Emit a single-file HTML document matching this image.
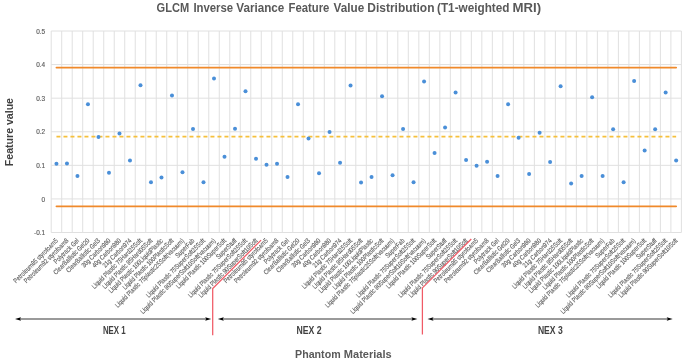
<!DOCTYPE html><html><head><meta charset="utf-8"><style>html,body{margin:0;padding:0;background:#fff;overflow:hidden}svg{display:block;will-change:transform}text{font-family:"Liberation Sans",sans-serif}</style></head><body>
<svg width="685" height="361" viewBox="0 0 685 361">
<rect width="685" height="361" fill="#fff"/>
<path d="M51.20 31.00H681.40M51.20 64.58H681.40M51.20 98.17H681.40M51.20 131.75H681.40M51.20 165.33H681.40M51.20 198.92H681.40M51.20 232.50H681.40M51.20 31.00V232.50M61.70 31.00V232.50M72.21 31.00V232.50M82.71 31.00V232.50M93.21 31.00V232.50M103.72 31.00V232.50M114.22 31.00V232.50M124.72 31.00V232.50M135.23 31.00V232.50M145.73 31.00V232.50M156.23 31.00V232.50M166.74 31.00V232.50M177.24 31.00V232.50M187.74 31.00V232.50M198.25 31.00V232.50M208.75 31.00V232.50M219.25 31.00V232.50M229.76 31.00V232.50M240.26 31.00V232.50M250.76 31.00V232.50M261.27 31.00V232.50M271.77 31.00V232.50M282.27 31.00V232.50M292.78 31.00V232.50M303.28 31.00V232.50M313.78 31.00V232.50M324.29 31.00V232.50M334.79 31.00V232.50M345.29 31.00V232.50M355.80 31.00V232.50M366.30 31.00V232.50M376.80 31.00V232.50M387.31 31.00V232.50M397.81 31.00V232.50M408.31 31.00V232.50M418.82 31.00V232.50M429.32 31.00V232.50M439.82 31.00V232.50M450.33 31.00V232.50M460.83 31.00V232.50M471.33 31.00V232.50M481.84 31.00V232.50M492.34 31.00V232.50M502.84 31.00V232.50M513.35 31.00V232.50M523.85 31.00V232.50M534.35 31.00V232.50M544.86 31.00V232.50M555.36 31.00V232.50M565.86 31.00V232.50M576.37 31.00V232.50M586.87 31.00V232.50M597.37 31.00V232.50M607.88 31.00V232.50M618.38 31.00V232.50M628.88 31.00V232.50M639.39 31.00V232.50M649.89 31.00V232.50M660.39 31.00V232.50M670.90 31.00V232.50M681.40 31.00V232.50" stroke="#e0e0e0" stroke-width="1.0" fill="none"/>
<text transform="translate(45.1 33.70) scale(0.92 1)" font-size="7.0" fill="#595959" stroke="#595959" stroke-width="0.15" text-anchor="end">0.5</text>
<text transform="translate(45.1 67.28) scale(0.92 1)" font-size="7.0" fill="#595959" stroke="#595959" stroke-width="0.15" text-anchor="end">0.4</text>
<text transform="translate(45.1 100.87) scale(0.92 1)" font-size="7.0" fill="#595959" stroke="#595959" stroke-width="0.15" text-anchor="end">0.3</text>
<text transform="translate(45.1 134.45) scale(0.92 1)" font-size="7.0" fill="#595959" stroke="#595959" stroke-width="0.15" text-anchor="end">0.2</text>
<text transform="translate(45.1 168.03) scale(0.92 1)" font-size="7.0" fill="#595959" stroke="#595959" stroke-width="0.15" text-anchor="end">0.1</text>
<text transform="translate(45.1 201.62) scale(0.92 1)" font-size="7.0" fill="#595959" stroke="#595959" stroke-width="0.15" text-anchor="end">0</text>
<text transform="translate(45.1 235.20) scale(0.92 1)" font-size="7.0" fill="#595959" stroke="#595959" stroke-width="0.15" text-anchor="end">-0.1</text>
<path d="M56.45 67.6H676.15M56.45 206.3H676.15" stroke="#f0892a" stroke-width="1.8" stroke-linecap="round" fill="none"/>
<path d="M56.45 136.6H676.15" stroke="#f5c03c" stroke-width="1.8" stroke-dasharray="4 3" fill="none"/>
<circle cx="56.45" cy="163.7" r="2.0" fill="#4a8fd8"/>
<circle cx="66.95" cy="163.4" r="2.0" fill="#4a8fd8"/>
<circle cx="77.46" cy="176" r="2.0" fill="#4a8fd8"/>
<circle cx="87.96" cy="104.2" r="2.0" fill="#4a8fd8"/>
<circle cx="98.47" cy="137.1" r="2.0" fill="#4a8fd8"/>
<circle cx="108.97" cy="172.7" r="2.0" fill="#4a8fd8"/>
<circle cx="119.47" cy="133.5" r="2.0" fill="#4a8fd8"/>
<circle cx="129.97" cy="160.4" r="2.0" fill="#4a8fd8"/>
<circle cx="140.48" cy="85.3" r="2.0" fill="#4a8fd8"/>
<circle cx="150.98" cy="182.3" r="2.0" fill="#4a8fd8"/>
<circle cx="161.48" cy="177.6" r="2.0" fill="#4a8fd8"/>
<circle cx="171.99" cy="95.6" r="2.0" fill="#4a8fd8"/>
<circle cx="182.49" cy="172.3" r="2.0" fill="#4a8fd8"/>
<circle cx="193.00" cy="129.1" r="2.0" fill="#4a8fd8"/>
<circle cx="203.50" cy="182.3" r="2.0" fill="#4a8fd8"/>
<circle cx="214.00" cy="78.6" r="2.0" fill="#4a8fd8"/>
<circle cx="224.50" cy="156.7" r="2.0" fill="#4a8fd8"/>
<circle cx="235.01" cy="128.8" r="2.0" fill="#4a8fd8"/>
<circle cx="245.51" cy="91.3" r="2.0" fill="#4a8fd8"/>
<circle cx="256.01" cy="158.7" r="2.0" fill="#4a8fd8"/>
<circle cx="266.52" cy="164.7" r="2.0" fill="#4a8fd8"/>
<circle cx="277.02" cy="163.7" r="2.0" fill="#4a8fd8"/>
<circle cx="287.52" cy="177" r="2.0" fill="#4a8fd8"/>
<circle cx="298.03" cy="104.2" r="2.0" fill="#4a8fd8"/>
<circle cx="308.53" cy="138.4" r="2.0" fill="#4a8fd8"/>
<circle cx="319.03" cy="173.3" r="2.0" fill="#4a8fd8"/>
<circle cx="329.54" cy="132.1" r="2.0" fill="#4a8fd8"/>
<circle cx="340.04" cy="162.7" r="2.0" fill="#4a8fd8"/>
<circle cx="350.54" cy="85.6" r="2.0" fill="#4a8fd8"/>
<circle cx="361.05" cy="182.6" r="2.0" fill="#4a8fd8"/>
<circle cx="371.55" cy="177" r="2.0" fill="#4a8fd8"/>
<circle cx="382.05" cy="96.2" r="2.0" fill="#4a8fd8"/>
<circle cx="392.56" cy="175.3" r="2.0" fill="#4a8fd8"/>
<circle cx="403.06" cy="129.1" r="2.0" fill="#4a8fd8"/>
<circle cx="413.56" cy="182.3" r="2.0" fill="#4a8fd8"/>
<circle cx="424.07" cy="81.6" r="2.0" fill="#4a8fd8"/>
<circle cx="434.57" cy="153.1" r="2.0" fill="#4a8fd8"/>
<circle cx="445.07" cy="127.5" r="2.0" fill="#4a8fd8"/>
<circle cx="455.58" cy="92.6" r="2.0" fill="#4a8fd8"/>
<circle cx="466.08" cy="160" r="2.0" fill="#4a8fd8"/>
<circle cx="476.58" cy="165.7" r="2.0" fill="#4a8fd8"/>
<circle cx="487.09" cy="161.7" r="2.0" fill="#4a8fd8"/>
<circle cx="497.59" cy="176" r="2.0" fill="#4a8fd8"/>
<circle cx="508.09" cy="104.2" r="2.0" fill="#4a8fd8"/>
<circle cx="518.60" cy="137.8" r="2.0" fill="#4a8fd8"/>
<circle cx="529.10" cy="174" r="2.0" fill="#4a8fd8"/>
<circle cx="539.60" cy="132.8" r="2.0" fill="#4a8fd8"/>
<circle cx="550.11" cy="162" r="2.0" fill="#4a8fd8"/>
<circle cx="560.61" cy="86.3" r="2.0" fill="#4a8fd8"/>
<circle cx="571.12" cy="183.6" r="2.0" fill="#4a8fd8"/>
<circle cx="581.62" cy="176" r="2.0" fill="#4a8fd8"/>
<circle cx="592.12" cy="97.2" r="2.0" fill="#4a8fd8"/>
<circle cx="602.62" cy="176" r="2.0" fill="#4a8fd8"/>
<circle cx="613.13" cy="129.2" r="2.0" fill="#4a8fd8"/>
<circle cx="623.63" cy="182.3" r="2.0" fill="#4a8fd8"/>
<circle cx="634.13" cy="81" r="2.0" fill="#4a8fd8"/>
<circle cx="644.64" cy="150.4" r="2.0" fill="#4a8fd8"/>
<circle cx="655.14" cy="129.2" r="2.0" fill="#4a8fd8"/>
<circle cx="665.64" cy="92.6" r="2.0" fill="#4a8fd8"/>
<circle cx="676.15" cy="160.4" r="2.0" fill="#4a8fd8"/>
<text transform="translate(58.45 241.2) rotate(-45) scale(0.81 1)" font-size="6.8" fill="#5e5e5e" stroke="#5e5e5e" stroke-width="0.14" text-anchor="end">Petroleum85 styrofoam5</text>
<text transform="translate(68.95 241.2) rotate(-45) scale(0.81 1)" font-size="6.8" fill="#5e5e5e" stroke="#5e5e5e" stroke-width="0.14" text-anchor="end">Petroleum92 styrofoam8</text>
<text transform="translate(79.46 241.2) rotate(-45) scale(0.81 1)" font-size="6.8" fill="#5e5e5e" stroke="#5e5e5e" stroke-width="0.14" text-anchor="end">Polytrack Gel</text>
<text transform="translate(89.96 241.2) rotate(-45) scale(0.81 1)" font-size="6.8" fill="#5e5e5e" stroke="#5e5e5e" stroke-width="0.14" text-anchor="end">ClearBallistic Gel20</text>
<text transform="translate(100.47 241.2) rotate(-45) scale(0.81 1)" font-size="6.8" fill="#5e5e5e" stroke="#5e5e5e" stroke-width="0.14" text-anchor="end">ClearBallistic Gel3</text>
<text transform="translate(110.97 241.2) rotate(-45) scale(0.81 1)" font-size="6.8" fill="#5e5e5e" stroke="#5e5e5e" stroke-width="0.14" text-anchor="end">30g Carbon980</text>
<text transform="translate(121.47 241.2) rotate(-45) scale(0.81 1)" font-size="6.8" fill="#5e5e5e" stroke="#5e5e5e" stroke-width="0.14" text-anchor="end">40g Carbon980</text>
<text transform="translate(131.97 241.2) rotate(-45) scale(0.81 1)" font-size="6.8" fill="#5e5e5e" stroke="#5e5e5e" stroke-width="0.14" text-anchor="end">21g Carbon974</text>
<text transform="translate(142.48 241.2) rotate(-45) scale(0.81 1)" font-size="6.8" fill="#5e5e5e" stroke="#5e5e5e" stroke-width="0.14" text-anchor="end">Liquid Plastic 75Hard25Soft</text>
<text transform="translate(152.98 241.2) rotate(-45) scale(0.81 1)" font-size="6.8" fill="#5e5e5e" stroke="#5e5e5e" stroke-width="0.14" text-anchor="end">Liquid Plastic 95Hard05Soft</text>
<text transform="translate(163.48 241.2) rotate(-45) scale(0.81 1)" font-size="6.8" fill="#5e5e5e" stroke="#5e5e5e" stroke-width="0.14" text-anchor="end">Liquid Plastic 100LiquidPlastic</text>
<text transform="translate(173.99 241.2) rotate(-45) scale(0.81 1)" font-size="6.8" fill="#5e5e5e" stroke="#5e5e5e" stroke-width="0.14" text-anchor="end">Liquid Plastic 100PlasticSoft</text>
<text transform="translate(184.49 241.2) rotate(-45) scale(0.81 1)" font-size="6.8" fill="#5e5e5e" stroke="#5e5e5e" stroke-width="0.14" text-anchor="end">Liquid Plastic 75plastic25Soft(vacuum)</text>
<text transform="translate(195.00 241.2) rotate(-45) scale(0.81 1)" font-size="6.8" fill="#5e5e5e" stroke="#5e5e5e" stroke-width="0.14" text-anchor="end">SuperFab</text>
<text transform="translate(205.50 241.2) rotate(-45) scale(0.81 1)" font-size="6.8" fill="#5e5e5e" stroke="#5e5e5e" stroke-width="0.14" text-anchor="end">Liquid Plastic 75SuperSoft25Soft</text>
<text transform="translate(216.00 241.2) rotate(-45) scale(0.81 1)" font-size="6.8" fill="#5e5e5e" stroke="#5e5e5e" stroke-width="0.14" text-anchor="end">Liquid Plastic 90SuperSoft10Soft(vacuum)</text>
<text transform="translate(226.50 241.2) rotate(-45) scale(0.81 1)" font-size="6.8" fill="#5e5e5e" stroke="#5e5e5e" stroke-width="0.14" text-anchor="end">Liquid Plastic 100SuperSoft</text>
<text transform="translate(237.01 241.2) rotate(-45) scale(0.81 1)" font-size="6.8" fill="#5e5e5e" stroke="#5e5e5e" stroke-width="0.14" text-anchor="end">SuperStuff</text>
<text transform="translate(247.51 241.2) rotate(-45) scale(0.81 1)" font-size="6.8" fill="#5e5e5e" stroke="#5e5e5e" stroke-width="0.14" text-anchor="end">Liquid Plastic 75SuperSoft25Soft</text>
<text transform="translate(258.01 241.2) rotate(-45) scale(0.81 1)" font-size="6.8" fill="#5e5e5e" stroke="#5e5e5e" stroke-width="0.14" text-anchor="end">Liquid Plastic 90SuperSoft10Soft</text>
<text transform="translate(268.52 241.2) rotate(-45) scale(0.81 1)" font-size="6.8" fill="#5e5e5e" stroke="#5e5e5e" stroke-width="0.14" text-anchor="end">Petroleum85 styrofoam5</text>
<text transform="translate(279.02 241.2) rotate(-45) scale(0.81 1)" font-size="6.8" fill="#5e5e5e" stroke="#5e5e5e" stroke-width="0.14" text-anchor="end">Petroleum92 styrofoam8</text>
<text transform="translate(289.52 241.2) rotate(-45) scale(0.81 1)" font-size="6.8" fill="#5e5e5e" stroke="#5e5e5e" stroke-width="0.14" text-anchor="end">Polytrack Gel</text>
<text transform="translate(300.03 241.2) rotate(-45) scale(0.81 1)" font-size="6.8" fill="#5e5e5e" stroke="#5e5e5e" stroke-width="0.14" text-anchor="end">ClearBallistic Gel20</text>
<text transform="translate(310.53 241.2) rotate(-45) scale(0.81 1)" font-size="6.8" fill="#5e5e5e" stroke="#5e5e5e" stroke-width="0.14" text-anchor="end">ClearBallistic Gel3</text>
<text transform="translate(321.03 241.2) rotate(-45) scale(0.81 1)" font-size="6.8" fill="#5e5e5e" stroke="#5e5e5e" stroke-width="0.14" text-anchor="end">30g Carbon980</text>
<text transform="translate(331.54 241.2) rotate(-45) scale(0.81 1)" font-size="6.8" fill="#5e5e5e" stroke="#5e5e5e" stroke-width="0.14" text-anchor="end">40g Carbon980</text>
<text transform="translate(342.04 241.2) rotate(-45) scale(0.81 1)" font-size="6.8" fill="#5e5e5e" stroke="#5e5e5e" stroke-width="0.14" text-anchor="end">21g Carbon974</text>
<text transform="translate(352.54 241.2) rotate(-45) scale(0.81 1)" font-size="6.8" fill="#5e5e5e" stroke="#5e5e5e" stroke-width="0.14" text-anchor="end">Liquid Plastic 75Hard25Soft</text>
<text transform="translate(363.05 241.2) rotate(-45) scale(0.81 1)" font-size="6.8" fill="#5e5e5e" stroke="#5e5e5e" stroke-width="0.14" text-anchor="end">Liquid Plastic 95Hard05Soft</text>
<text transform="translate(373.55 241.2) rotate(-45) scale(0.81 1)" font-size="6.8" fill="#5e5e5e" stroke="#5e5e5e" stroke-width="0.14" text-anchor="end">Liquid Plastic 100LiquidPlastic</text>
<text transform="translate(384.05 241.2) rotate(-45) scale(0.81 1)" font-size="6.8" fill="#5e5e5e" stroke="#5e5e5e" stroke-width="0.14" text-anchor="end">Liquid Plastic 100PlasticSoft</text>
<text transform="translate(394.56 241.2) rotate(-45) scale(0.81 1)" font-size="6.8" fill="#5e5e5e" stroke="#5e5e5e" stroke-width="0.14" text-anchor="end">Liquid Plastic 75plastic25Soft(vacuum)</text>
<text transform="translate(405.06 241.2) rotate(-45) scale(0.81 1)" font-size="6.8" fill="#5e5e5e" stroke="#5e5e5e" stroke-width="0.14" text-anchor="end">SuperFab</text>
<text transform="translate(415.56 241.2) rotate(-45) scale(0.81 1)" font-size="6.8" fill="#5e5e5e" stroke="#5e5e5e" stroke-width="0.14" text-anchor="end">Liquid Plastic 75SuperSoft25Soft</text>
<text transform="translate(426.07 241.2) rotate(-45) scale(0.81 1)" font-size="6.8" fill="#5e5e5e" stroke="#5e5e5e" stroke-width="0.14" text-anchor="end">Liquid Plastic 90SuperSoft10Soft(vacuum)</text>
<text transform="translate(436.57 241.2) rotate(-45) scale(0.81 1)" font-size="6.8" fill="#5e5e5e" stroke="#5e5e5e" stroke-width="0.14" text-anchor="end">Liquid Plastic 100SuperSoft</text>
<text transform="translate(447.07 241.2) rotate(-45) scale(0.81 1)" font-size="6.8" fill="#5e5e5e" stroke="#5e5e5e" stroke-width="0.14" text-anchor="end">SuperStuff</text>
<text transform="translate(457.58 241.2) rotate(-45) scale(0.81 1)" font-size="6.8" fill="#5e5e5e" stroke="#5e5e5e" stroke-width="0.14" text-anchor="end">Liquid Plastic 75SuperSoft25Soft</text>
<text transform="translate(468.08 241.2) rotate(-45) scale(0.81 1)" font-size="6.8" fill="#5e5e5e" stroke="#5e5e5e" stroke-width="0.14" text-anchor="end">Liquid Plastic 90SuperSoft10Soft</text>
<text transform="translate(478.58 241.2) rotate(-45) scale(0.81 1)" font-size="6.8" fill="#5e5e5e" stroke="#5e5e5e" stroke-width="0.14" text-anchor="end">Petroleum85 styrofoam5</text>
<text transform="translate(489.09 241.2) rotate(-45) scale(0.81 1)" font-size="6.8" fill="#5e5e5e" stroke="#5e5e5e" stroke-width="0.14" text-anchor="end">Petroleum92 styrofoam8</text>
<text transform="translate(499.59 241.2) rotate(-45) scale(0.81 1)" font-size="6.8" fill="#5e5e5e" stroke="#5e5e5e" stroke-width="0.14" text-anchor="end">Polytrack Gel</text>
<text transform="translate(510.09 241.2) rotate(-45) scale(0.81 1)" font-size="6.8" fill="#5e5e5e" stroke="#5e5e5e" stroke-width="0.14" text-anchor="end">ClearBallistic Gel20</text>
<text transform="translate(520.60 241.2) rotate(-45) scale(0.81 1)" font-size="6.8" fill="#5e5e5e" stroke="#5e5e5e" stroke-width="0.14" text-anchor="end">ClearBallistic Gel3</text>
<text transform="translate(531.10 241.2) rotate(-45) scale(0.81 1)" font-size="6.8" fill="#5e5e5e" stroke="#5e5e5e" stroke-width="0.14" text-anchor="end">30g Carbon980</text>
<text transform="translate(541.60 241.2) rotate(-45) scale(0.81 1)" font-size="6.8" fill="#5e5e5e" stroke="#5e5e5e" stroke-width="0.14" text-anchor="end">40g Carbon980</text>
<text transform="translate(552.11 241.2) rotate(-45) scale(0.81 1)" font-size="6.8" fill="#5e5e5e" stroke="#5e5e5e" stroke-width="0.14" text-anchor="end">21g Carbon974</text>
<text transform="translate(562.61 241.2) rotate(-45) scale(0.81 1)" font-size="6.8" fill="#5e5e5e" stroke="#5e5e5e" stroke-width="0.14" text-anchor="end">Liquid Plastic 75Hard25Soft</text>
<text transform="translate(573.12 241.2) rotate(-45) scale(0.81 1)" font-size="6.8" fill="#5e5e5e" stroke="#5e5e5e" stroke-width="0.14" text-anchor="end">Liquid Plastic 95Hard05Soft</text>
<text transform="translate(583.62 241.2) rotate(-45) scale(0.81 1)" font-size="6.8" fill="#5e5e5e" stroke="#5e5e5e" stroke-width="0.14" text-anchor="end">Liquid Plastic 100LiquidPlastic</text>
<text transform="translate(594.12 241.2) rotate(-45) scale(0.81 1)" font-size="6.8" fill="#5e5e5e" stroke="#5e5e5e" stroke-width="0.14" text-anchor="end">Liquid Plastic 100PlasticSoft</text>
<text transform="translate(604.62 241.2) rotate(-45) scale(0.81 1)" font-size="6.8" fill="#5e5e5e" stroke="#5e5e5e" stroke-width="0.14" text-anchor="end">Liquid Plastic 75plastic25Soft(vacuum)</text>
<text transform="translate(615.13 241.2) rotate(-45) scale(0.81 1)" font-size="6.8" fill="#5e5e5e" stroke="#5e5e5e" stroke-width="0.14" text-anchor="end">SuperFab</text>
<text transform="translate(625.63 241.2) rotate(-45) scale(0.81 1)" font-size="6.8" fill="#5e5e5e" stroke="#5e5e5e" stroke-width="0.14" text-anchor="end">Liquid Plastic 75SuperSoft25Soft</text>
<text transform="translate(636.13 241.2) rotate(-45) scale(0.81 1)" font-size="6.8" fill="#5e5e5e" stroke="#5e5e5e" stroke-width="0.14" text-anchor="end">Liquid Plastic 90SuperSoft10Soft(vacuum)</text>
<text transform="translate(646.64 241.2) rotate(-45) scale(0.81 1)" font-size="6.8" fill="#5e5e5e" stroke="#5e5e5e" stroke-width="0.14" text-anchor="end">Liquid Plastic 100SuperSoft</text>
<text transform="translate(657.14 241.2) rotate(-45) scale(0.81 1)" font-size="6.8" fill="#5e5e5e" stroke="#5e5e5e" stroke-width="0.14" text-anchor="end">SuperStuff</text>
<text transform="translate(667.64 241.2) rotate(-45) scale(0.81 1)" font-size="6.8" fill="#5e5e5e" stroke="#5e5e5e" stroke-width="0.14" text-anchor="end">Liquid Plastic 75SuperSoft25Soft</text>
<text transform="translate(678.15 241.2) rotate(-45) scale(0.81 1)" font-size="6.8" fill="#5e5e5e" stroke="#5e5e5e" stroke-width="0.14" text-anchor="end">Liquid Plastic 90SuperSoft10Soft</text>
<text x="156.60" y="12.3" font-size="12.3" font-weight="bold" fill="#595959" textLength="32.60" lengthAdjust="spacingAndGlyphs">GLCM</text>
<text x="193.40" y="12.3" font-size="12.3" font-weight="bold" fill="#595959" textLength="39.80" lengthAdjust="spacingAndGlyphs">Inverse</text>
<text x="236.30" y="12.3" font-size="12.3" font-weight="bold" fill="#595959" textLength="48.00" lengthAdjust="spacingAndGlyphs">Variance</text>
<text x="288.60" y="12.3" font-size="12.3" font-weight="bold" fill="#595959" textLength="40.80" lengthAdjust="spacingAndGlyphs">Feature</text>
<text x="333.60" y="12.3" font-size="12.3" font-weight="bold" fill="#595959" textLength="30.60" lengthAdjust="spacingAndGlyphs">Value</text>
<text x="367.30" y="12.3" font-size="12.3" font-weight="bold" fill="#595959" textLength="67.20" lengthAdjust="spacingAndGlyphs">Distribution</text>
<text x="437.00" y="12.3" font-size="12.3" font-weight="bold" fill="#595959" textLength="72.50" lengthAdjust="spacingAndGlyphs">(T1-weighted</text>
<text x="512.60" y="12.3" font-size="12.3" font-weight="bold" fill="#595959" textLength="28.60" lengthAdjust="spacingAndGlyphs">MRI)</text>
<text transform="translate(12.5 132.1) rotate(-90)" font-size="11.0" font-weight="bold" fill="#404040" text-anchor="middle" textLength="68.2" lengthAdjust="spacingAndGlyphs">Feature value</text>
<path d="M261.1 240.1L212.7 288.5V335.2M471.3 239.0L422.4 287.9V334.6" stroke="#f05a66" stroke-width="1.25" fill="none"/>
<path d="M20.00 319.0H206.20" stroke="#9a9a9a" stroke-width="2" fill="none"/><path d="M15.00 319.0L21.00 317.20L20.00 319.0L21.00 320.80Z" fill="#000"/><path d="M211.20 319.0L205.20 317.20L206.20 319.0L205.20 320.80Z" fill="#000"/>
<path d="M222.80 319.0H412.40" stroke="#9a9a9a" stroke-width="2" fill="none"/><path d="M217.80 319.0L223.80 317.20L222.80 319.0L223.80 320.80Z" fill="#000"/><path d="M417.40 319.0L411.40 317.20L412.40 319.0L411.40 320.80Z" fill="#000"/>
<path d="M432.50 319.0H667.70" stroke="#9a9a9a" stroke-width="2" fill="none"/><path d="M427.50 319.0L433.50 317.20L432.50 319.0L433.50 320.80Z" fill="#000"/><path d="M672.70 319.0L666.70 317.20L667.70 319.0L666.70 320.80Z" fill="#000"/>
<text x="102.9" y="334" font-size="10.4" font-weight="bold" fill="#404040" textLength="22.8" lengthAdjust="spacingAndGlyphs">NEX 1</text>
<text x="296.4" y="334" font-size="10.4" font-weight="bold" fill="#404040" textLength="25.2" lengthAdjust="spacingAndGlyphs">NEX 2</text>
<text x="537.9" y="334" font-size="10.4" font-weight="bold" fill="#404040" textLength="24.8" lengthAdjust="spacingAndGlyphs">NEX 3</text>
<text x="295.10" y="357.7" font-size="11.2" font-weight="bold" fill="#595959" textLength="45.50" lengthAdjust="spacingAndGlyphs">Phantom</text>
<text x="343.80" y="357.7" font-size="11.2" font-weight="bold" fill="#595959" textLength="47.90" lengthAdjust="spacingAndGlyphs">Materials</text>
</svg></body></html>
